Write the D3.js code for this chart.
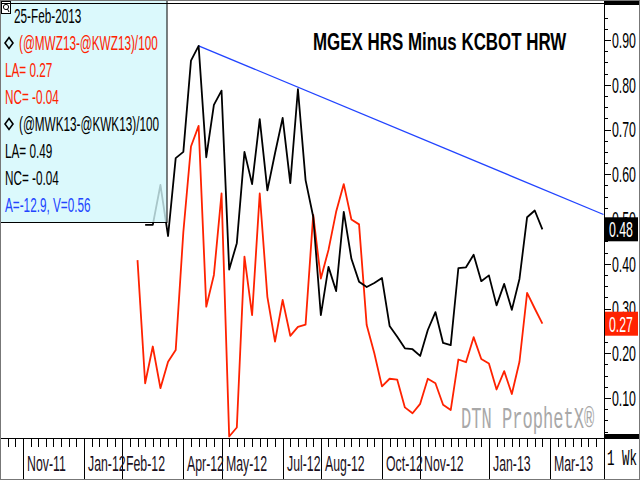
<!DOCTYPE html>
<html><head><meta charset="utf-8">
<script src="https://cdn.jsdelivr.net/npm/d3@7"></script>
<style>body{margin:0;background:#fff}svg{display:block}</style>
</head><body><svg id="c" width="640" height="480"></svg>
<script>
// ---- data ----
const redStart = "2012-02-20";   // weekly (Mondays)
const redValues = [0.408,0.133,0.215,0.122,0.181,0.207,0.471,0.662,0.708,0.304,0.375,0.557,0.014,0.034,0.416,0.285,0.557,0.326,0.226,0.319,0.239,0.259,0.264,0.509,0.367,0.431,0.516,0.578,0.499,0.488,0.263,0.200,0.126,0.143,0.141,0.079,0.066,0.087,0.143,0.133,0.085,0.073,0.186,0.180,0.236,0.187,0.177,0.119,0.160,0.109,0.181,0.335,0.300,0.266];
const blackStart = "2012-02-27";
const blackValues = [0.487,0.487,0.576,0.462,0.636,0.650,0.854,0.887,0.638,0.755,0.787,0.387,0.446,0.650,0.578,0.723,0.564,0.647,0.726,0.580,0.790,0.587,0.505,0.285,0.393,0.339,0.516,0.411,0.360,0.348,0.357,0.368,0.261,0.237,0.211,0.209,0.194,0.252,0.292,0.223,0.218,0.390,0.392,0.420,0.361,0.374,0.307,0.355,0.297,0.366,0.504,0.519,0.477];
const trendDates = ["2012-04-16","2013-04-22"];
const trendValues = [0.887,0.510];
const monthTickDates = ["2011-11-07","2012-01-02","2012-02-06","2012-04-02","2012-05-07","2012-07-02","2012-08-06","2012-10-01","2012-11-05","2013-01-07","2013-03-04"];
const monthTickLabels = ["Nov-11","Jan-12","Feb-12","Apr-12","May-12","Jul-12","Aug-12","Oct-12","Nov-12","Jan-13","Mar-13"];
const yTickValues = [0.10,0.20,0.30,0.40,0.50,0.60,0.70,0.80,0.90];
const title = "MGEX HRS Minus KCBOT HRW";
const legendDate = "25-Feb-2013";
const legendRed = ["(@MWZ13-@KWZ13)/100","LA= 0.27","NC= -0.04"];
const legendBlack = ["(@MWK13-@KWK13)/100","LA= 0.49","NC= -0.04"];
const legendTrend = "A=-12.9, V=0.56";

// ---- layout ----
const svg = d3.select("#c");
const plotL = 0, plotR = 604, plotT = 4, plotB = 438;
const parse = d3.utcParse("%Y-%m-%d");
const x = d3.scaleUtc().domain([parse("2011-10-17"), parse("2013-04-22")]).range([0, 603.5]);
const y = d3.scaleLinear().domain([0.9, 0.1]).range([40, 398]);
const SX = 0.56;
const FONT = "'Liberation Sans', Arial, sans-serif";
const MONO = "'Liberation Mono', 'DejaVu Sans Mono', monospace";
const RED = "#ff2200", BLUE = "#2244ff";

function stext(parent, tx, ty, str, o = {}) {
  const g = parent.append("g").attr("transform", `translate(${tx},${ty}) scale(${o.sx || SX},1)`);
  return g.append("text").text(str)
    .attr("font-family", o.family || FONT)
    .attr("font-size", o.size || 21)
    .attr("font-weight", o.weight || "normal")
    .attr("fill", o.fill || "#000")
    .attr("text-anchor", o.anchor || "start")
    .attr("dy", "0.36em");
}

svg.append("rect").attr("width", 640).attr("height", 480).attr("fill", "#fff");

const redData = redValues.map((v, i) => ({ date: d3.utcMonday.offset(parse(redStart), i), value: v }));
const blackData = blackValues.map((v, i) => ({ date: d3.utcMonday.offset(parse(blackStart), i), value: v }));
const trendData = trendDates.map((d, i) => ({ date: parse(d), value: trendValues[i] }));

svg.append("clipPath").attr("id", "pc").append("rect")
  .attr("x", plotL).attr("y", plotT).attr("width", plotR - plotL).attr("height", plotB - plotT);
const plot = svg.append("g").attr("clip-path", "url(#pc)");
const line = d3.line().x(d => x(d.date)).y(d => y(d.value));

plot.append("path").datum(trendData).attr("d", line).attr("fill", "none").attr("stroke", BLUE).attr("stroke-width", 1.3);
plot.append("path").datum(redData).attr("d", line).attr("fill", "none").attr("stroke", RED).attr("stroke-width", 1.8).attr("stroke-linejoin", "round");
plot.append("path").datum(blackData).attr("d", line).attr("fill", "none").attr("stroke", "#000").attr("stroke-width", 1.8).attr("stroke-linejoin", "round");

// title (condensed by a horizontal scale)
stext(svg, 313, 41, title, { size: 24, weight: "bold", sx: 0.705 });

// watermark
stext(svg, 461, 417, "DTN ProphetX\u00AE", { family: MONO, size: 30, sx: 0.57, fill: "#a8a8a8" });

// legend box (semi transparent)
const lg = svg.append("g");
lg.append("rect").attr("x", 0.5).attr("y", 0.5).attr("width", 166.5).attr("height", 222)
  .attr("fill", "#d2f8fb").attr("fill-opacity", 0.8).attr("stroke", "#000").attr("stroke-width", 1);
lg.append("rect").attr("x", 1.5).attr("y", 1.5).attr("width", 9).attr("height", 12).attr("fill", "#fff").attr("stroke", "#000");
lg.append("circle").attr("cx", 6).attr("cy", 7).attr("r", 2.6).attr("fill", "none").attr("stroke", "#000");
lg.append("line").attr("x1", 7.5).attr("y1", 9).attr("x2", 9).attr("y2", 12).attr("stroke", "#000");
stext(lg, 14, 15, legendDate);
const diamond = (cy) => lg.append("path")
  .attr("d", `M9,${cy - 5.5} L13,${cy} L9,${cy + 5.5} L5,${cy} Z`)
  .attr("fill", "none").attr("stroke", "#000").attr("stroke-width", 1.6);
diamond(43);
stext(lg, 19, 42, legendRed[0], { fill: RED });
stext(lg, 5, 69, legendRed[1], { fill: RED });
stext(lg, 5, 96, legendRed[2], { fill: RED });
diamond(124);
stext(lg, 19, 123, legendBlack[0]);
stext(lg, 5, 150, legendBlack[1]);
stext(lg, 5, 177, legendBlack[2]);
stext(lg, 5, 204, legendTrend, { fill: BLUE });

// frame lines
svg.append("line").attr("x1", 0).attr("x2", 604).attr("y1", 3.5).attr("y2", 3.5).attr("stroke", "#000");
svg.append("line").attr("x1", 0).attr("x2", 604).attr("y1", plotB + 0.5).attr("y2", plotB + 0.5).attr("stroke", "#000");
svg.append("rect").attr("x", 604).attr("y", 0).attr("width", 36).attr("height", 5).attr("fill", "#000");
svg.append("rect").attr("x", 604).attr("y", plotB - 4).attr("width", 36).attr("height", 5).attr("fill", "#000");
svg.append("line").attr("x1", 604.5).attr("x2", 604.5).attr("y1", 0).attr("y2", 480).attr("stroke", "#000");

// y axis (right)
const ya = svg.append("g");
const minor = d3.range(1, 39).map(i => i * 0.025).filter(v => Math.abs(v * 10 - Math.round(v * 10)) > 1e-6);
ya.selectAll("line.mn").data(minor).join("line").attr("class", "mn")
  .attr("x1", 605).attr("x2", 608).attr("y1", d => Math.round(y(d)) + 0.5).attr("y2", d => Math.round(y(d)) + 0.5)
  .attr("stroke", "#000").attr("display", d => (y(d) > plotT + 3 && y(d) < plotB - 5) ? null : "none");
ya.selectAll("line.mj").data(yTickValues).join("line").attr("class", "mj")
  .attr("x1", 605).attr("x2", 611).attr("y1", d => Math.round(y(d)) + 0.5).attr("y2", d => Math.round(y(d)) + 0.5)
  .attr("stroke", "#000");
yTickValues.forEach(v => stext(ya, 612, y(v), d3.format(".2f")(v), { size: 22 }));

// last-value boxes
const fmt = d3.format(".2f");
[[blackValues[blackValues.length - 1], "#000"], [redValues[redValues.length - 1], RED]].forEach(([v, c]) => {
  const cy = y(v);
  svg.append("rect").attr("x", 605).attr("y", cy - 12).attr("width", 33).attr("height", 24).attr("fill", c);
  stext(svg, 609, cy, fmt(v), { size: 22, fill: "#fff" });
});

// x axis
const xa = svg.append("g");
const weeks = d3.utcMonday.range(parse("2011-10-17"), parse("2013-04-23"));
xa.selectAll("line.wk").data(weeks).join("line").attr("class", "wk")
  .attr("x1", d => Math.round(x(d)) + 0.5).attr("x2", d => Math.round(x(d)) + 0.5)
  .attr("y1", plotB + 1).attr("y2", plotB + 9).attr("stroke", "#000");
const mdates = monthTickDates.map(parse);
xa.selectAll("line.mo").data(mdates).join("line").attr("class", "mo")
  .attr("x1", d => Math.round(x(d)) + 0.5).attr("x2", d => Math.round(x(d)) + 0.5)
  .attr("y1", plotB + 1).attr("y2", 480).attr("stroke", "#000");
mdates.forEach((d, i) => stext(xa, Math.round(x(d)) + 4, 463, monthTickLabels[i], { size: 22, fill: "#1a1020" }));
stext(svg, 607, 457, "1 Wk", { family: MONO, size: 22, sx: 0.57 });

// outer border
svg.append("rect").attr("x", 0.5).attr("y", 0.5).attr("width", 639).attr("height", 479)
  .attr("fill", "none").attr("stroke", "#777");
</script></body></html>
